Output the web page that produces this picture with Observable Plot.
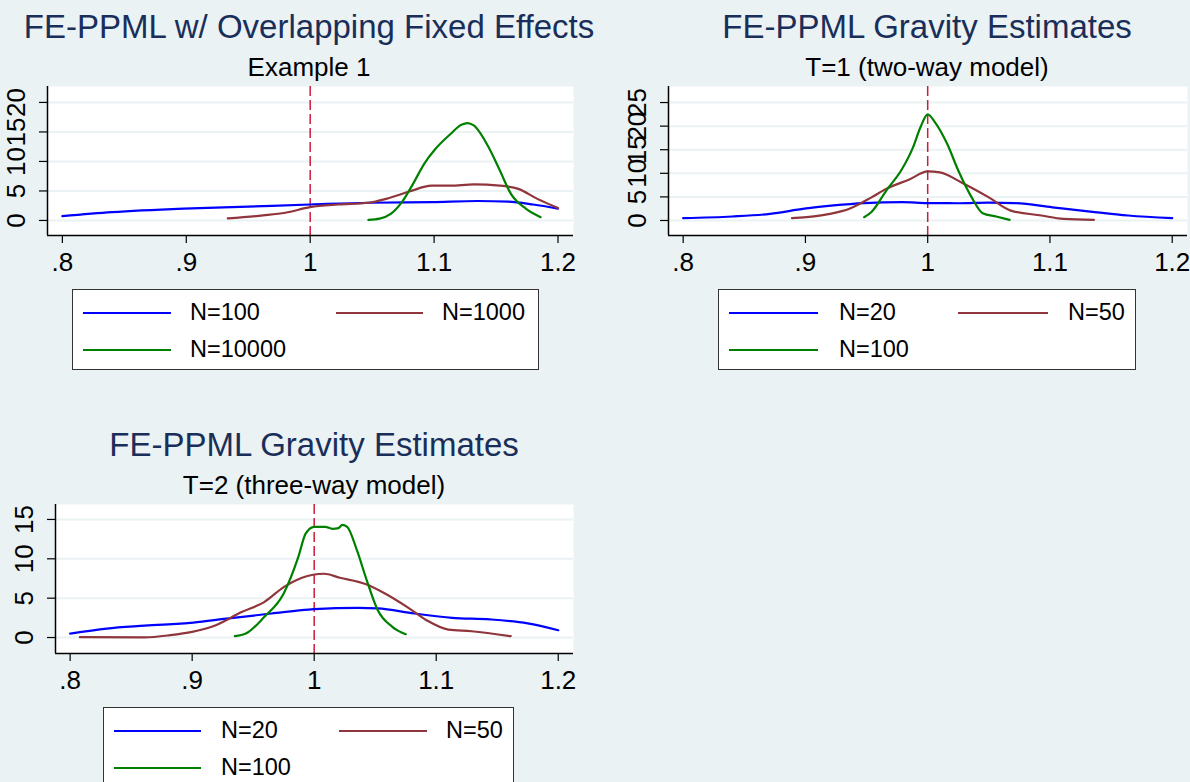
<!DOCTYPE html>
<html><head><meta charset="utf-8">
<script src="https://cdn.jsdelivr.net/npm/d3@7"></script>
<script src="https://cdn.jsdelivr.net/npm/@observablehq/plot@0.6"></script>
<style>
body{margin:0;background:#eaf2f3;font-family:Arial,"Liberation Sans",sans-serif;}
#root{position:relative;width:1190px;height:782px;overflow:hidden;background:#eaf2f3;}
.panel{position:absolute;overflow:hidden;}
.title{position:absolute;white-space:nowrap;transform:translateX(-50%);font-size:33px;color:#1a2e5a;line-height:1;}
.sub{position:absolute;white-space:nowrap;transform:translateX(-50%);font-size:26px;color:#000;line-height:1;}
.legend{position:absolute;background:#fff;border:1px solid #333;box-sizing:border-box;}
.sw{position:absolute;height:2px;}
.lt{position:absolute;font-size:23.5px;line-height:1;transform:translateY(-50%);white-space:nowrap;color:#000;}
.plotwrap{position:absolute;}
</style></head>
<body><div id="root"></div>
<script>
// ---- data ----
const xTicks = [0.8, 0.9, 1, 1.1, 1.2];
const seriesColors = ["#0000ff", "#90353b", "#008000"];

// Panel 1: FE-PPML w/ Overlapping Fixed Effects, Example 1
const ex1Labels = ["N=100", "N=1000", "N=10000"];
const ex1Ticks = [0, 5, 10, 15, 20];
const ex1_N100 = [[.8,.73],[.84,1.4],[.898,2.0],[.95,2.35],[1.0,2.7],[1.047,3.0],[1.098,3.1],[1.135,3.3],[1.16,3.2],[1.18,2.7],[1.2,2.0]];
const ex1_N1000 = [[.9335,.34],[.962,.85],[.98,1.3],[1.0,2.25],[1.0225,2.7],[1.047,3.0],[1.062,3.7],[1.08,4.9],[1.098,5.9],[1.113,5.9],[1.132,6.1],[1.153,5.9],[1.168,5.35],[1.183,3.7],[1.2,2.1]];
const ex1_N10000 = [[1.047,.1],[1.056,.3],[1.065,1.1],[1.074,3.1],[1.083,6.2],[1.092,9.6],[1.101,12.1],[1.113,14.6],[1.122,16.2],[1.127,16.5],[1.132,16.1],[1.144,12.4],[1.153,8.5],[1.162,4.5],[1.174,2.0],[1.186,.56]];

// Panel 2: FE-PPML Gravity Estimates, T=1 (two-way model)
const t1Labels = ["N=20", "N=50", "N=100"];
const t1Ticks = [0, 5, 10, 15, 20, 25];
const t1_N20 = [[.8,.5],[.84,.85],[.871,1.4],[.899,2.5],[.923,3.2],[.948,3.7],[.979,3.9],[1.0,3.7],[1.025,3.66],[1.05,3.8],[1.071,3.7],[1.102,2.8],[1.133,1.9],[1.164,1.06],[1.2,.5]];
const t1_N50 = [[.889,.5],[.92,1.4],[.936,2.5],[.954,4.9],[.966,6.7],[.985,8.7],[1.0,10.4],[1.01,10.2],[1.028,8.0],[1.05,4.9],[1.068,2.1],[1.093,1.06],[1.111,.35],[1.136,.14]];
const t1_N100 = [[.948,.7],[.954,1.8],[.966,6.3],[.979,10.9],[.988,15.5],[.994,19.7],[1.0,22.5],[1.006,20.8],[1.016,16.2],[1.025,10.6],[1.036,4.9],[1.045,1.55],[1.056,.85],[1.067,.14]];

// Panel 3: FE-PPML Gravity Estimates, T=2 (three-way model)
const t2Labels = ["N=20", "N=50", "N=100"];
const t2Ticks = [0, 5, 10, 15];
const t2_N20 = [[.8,.5],[.83,1.14],[.861,1.5],[.901,1.9],[.928,2.4],[.965,3.05],[1.0,3.6],[1.036,3.77],[1.052,3.7],[1.082,3.05],[1.113,2.5],[1.144,2.3],[1.175,1.8],[1.2,.93]];
const t2_N50 = [[.808,.05],[.861,.02],[.882,.3],[.9,.72],[.916,1.36],[.941,3.26],[.959,4.5],[.975,6.4],[.99,7.6],[1.008,8.1],[1.021,7.6],[1.042,6.8],[1.058,5.6],[1.076,3.9],[1.092,2.2],[1.11,1.0],[1.129,.8],[1.161,.17]];
const t2_N100 = [[.935,.17],[.944,.5],[.959,2.6],[.975,5.6],[.987,10.25],[.993,13.2],[1.0,14.07],[1.009,14.07],[1.015,13.8],[1.02,13.9],[1.023,14.3],[1.027,14.07],[1.035,11.1],[1.043,7.3],[1.052,3.5],[1.064,1.36],[1.075,.42]];

const refLine = [1];

// ---- layout ----
const panels = [
  {title:"FE-PPML w/ Overlapping Fixed Effects", sub:"Example 1", labels:ex1Labels, series:[ex1_N100, ex1_N1000, ex1_N10000], yTicks:ex1Ticks, yDomain:[-2.55,22.7],
   box:{left:0, top:0, width:598, height:391}, svg:{left:0, top:76, width:597, ml:47, mr:24}, titleX:309, subX:309,
   legend:{left:72, top:289, width:467, height:81, cols:[[10,98,117],[263,350,369]]}},
  {title:"FE-PPML Gravity Estimates", sub:"T=1 (two-way model)", labels:t1Labels, series:[t1_N20, t1_N50, t1_N100], yTicks:t1Ticks, yDomain:[-3.18,28.4],
   box:{left:597, top:0, width:593, height:391}, svg:{left:0, top:76, width:593, ml:71, mr:3}, titleX:330, subX:330,
   legend:{left:121, top:289, width:418, height:81, cols:[[10,99,120],[239,329,349]]}},
  {title:"FE-PPML Gravity Estimates", sub:"T=2 (three-way model)", labels:t2Labels, series:[t2_N20, t2_N50, t2_N100], yTicks:t2Ticks, yDomain:[-2.03,16.9],
   box:{left:0, top:418, width:597, height:364}, svg:{left:0, top:76, width:597, ml:55, mr:24}, titleX:314, subX:314,
   legend:{left:103, top:289, width:411, height:82, cols:[[10,97,117],[235,323,342]]}}
];

const root = document.getElementById("root");
const fmt = d => String(d).replace(/^0\./, ".");

for (const p of panels) {
  const box = document.createElement("div");
  box.className = "panel";
  Object.assign(box.style, {left:p.box.left+"px", top:p.box.top+"px", width:p.box.width+"px", height:p.box.height+"px"});
  root.appendChild(box);

  const t = document.createElement("div");
  t.className = "title"; t.textContent = p.title;
  t.style.left = p.titleX + "px"; t.style.top = (38 - 0.8465*33) + "px";
  box.appendChild(t);
  const s = document.createElement("div");
  s.className = "sub"; s.textContent = p.sub;
  s.style.left = p.subX + "px"; s.style.top = (76 - 0.8465*26) + "px";
  box.appendChild(s);

  const data = [];
  p.series.forEach((arr, i) => arr.forEach(([x, y]) => data.push({x, y, s: p.labels[i]})));

  const chart = Plot.plot({
    width: p.svg.width, height: 204,
    marginLeft: p.svg.ml, marginRight: p.svg.mr, marginTop: 10, marginBottom: 45,
    style: {background: "transparent", fontFamily: "Arial, 'Liberation Sans', sans-serif", fontSize: "26px", overflow: "visible", color: "#000"},
    x: {domain: [0.788, 1.2125], ticks: xTicks, tickFormat: fmt, label: null},
    y: {domain: p.yDomain, ticks: p.yTicks, label: null},
    color: {domain: p.labels, range: seriesColors},
    marks: [
      Plot.frame({fill: "white", stroke: null}),
      Plot.gridY(p.yTicks, {stroke: "#eaf2f3", strokeOpacity: 1, strokeWidth: 2}),
      Plot.axisY(p.yTicks, {tickSize: 8, tickFormat: () => "", stroke: "#000", strokeWidth: 1.2}),
      Plot.text(p.yTicks, {y: d => d, text: d => String(d), frameAnchor: "left", dx: -31, rotate: -90, textAnchor: "middle", lineAnchor: "middle", fontSize: 26, fill: "#000"}),
      Plot.axisX(xTicks, {tickSize: 8, tickPadding: 9, tickFormat: fmt, fontSize: 26, stroke: "#000", strokeWidth: 1.2, fill: "#000"}),
      Plot.ruleX(refLine, {stroke: "#cc1c3c", strokeDasharray: "10,4", strokeWidth: 1.5}),
      Plot.line(data, {x: "x", y: "y", z: "s", stroke: "s", strokeWidth: 2.2, curve: "monotone-x"}),
      Plot.ruleX([0], {x: () => 0.788, stroke: "#000", strokeWidth: 1.5}),
      Plot.ruleY([0], {y: () => p.yDomain[0], stroke: "#000", strokeWidth: 1.5})
    ]
  });
  const wrap = document.createElement("div");
  wrap.className = "plotwrap";
  wrap.style.left = p.svg.left + "px"; wrap.style.top = p.svg.top + "px";
  wrap.appendChild(chart);
  box.appendChild(wrap);

  const lg = document.createElement("div");
  lg.className = "legend";
  Object.assign(lg.style, {left:p.legend.left+"px", top:p.legend.top+"px", width:p.legend.width+"px", height:p.legend.height+"px"});
  box.appendChild(lg);
  p.labels.forEach((lab, i) => {
    const col = p.legend.cols[i % 2];
    const rowY = i < 2 ? 22.5 : 59.5;
    const sw = document.createElement("div");
    sw.className = "sw";
    Object.assign(sw.style, {left: col[0]+"px", width: (col[1]-col[0])+"px", top: (rowY-1)+"px", background: seriesColors[i]});
    lg.appendChild(sw);
    const tx = document.createElement("div");
    tx.className = "lt"; tx.textContent = lab;
    tx.style.left = col[2] + "px"; tx.style.top = rowY + "px";
    lg.appendChild(tx);
  });
}
</script></body></html>
